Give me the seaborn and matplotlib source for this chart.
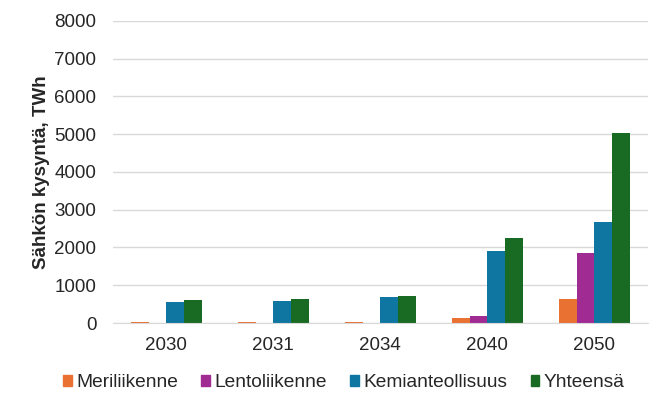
import matplotlib
matplotlib.use("Agg")
import matplotlib.pyplot as plt
import seaborn as sns
import pandas as pd

years = ["2030", "2031", "2034", "2040", "2050"]
series = ["Meriliikenne", "Lentoliikenne", "Kemianteollisuus", "Yhteensä"]
meriliikenne = [35, 35, 35, 130, 630]
lentoliikenne = [0, 0, 0, 185, 1850]
kemianteollisuus = [560, 585, 680, 1915, 2685]
yhteensa = [600, 630, 725, 2245, 5035]
colors = ["#E97132", "#A02B93", "#0E76A0", "#196B24"]

rows = []
for name, vals in zip(series, [meriliikenne, lentoliikenne, kemianteollisuus, yhteensa]):
    for y, v in zip(years, vals):
        rows.append({"Vuosi": y, "Sarja": name, "TWh": v})
df = pd.DataFrame(rows)

sns.set_style("white")
plt.rcParams["font.family"] = ["Liberation Sans", "DejaVu Sans"]

fig = plt.figure(figsize=(6.49, 3.93), dpi=100)
ax = fig.add_axes([0.174, 0.178, 0.824, 0.769])

sns.barplot(data=df, x="Vuosi", y="TWh", hue="Sarja", palette=colors,
            width=0.66, saturation=1, linewidth=0, ax=ax, legend=False)

ax.set_ylim(0, 8000)
ax.set_yticks(range(0, 8001, 1000))
ax.yaxis.grid(True, color="#D9D9D9", linewidth=1)
ax.set_axisbelow(True)
for s in ["top", "right", "left"]:
    ax.spines[s].set_visible(False)
ax.spines["bottom"].set_color("#D9D9D9")
ax.tick_params(axis="y", length=0, labelsize=13.5, colors="#262626", pad=12)
ax.tick_params(axis="x", length=0, labelsize=13.5, colors="#262626", pad=10)
ax.set_xlabel("")
ax.set_ylabel("Sähkön kysyntä, TWh", fontsize=13.5, fontweight="bold", labelpad=3)

handles = [plt.Rectangle((0, 0), 1, 1, color=c) for c in colors]
fig.legend(handles, series, loc="lower center", bbox_to_anchor=(0.53, -0.04),
           ncol=4, frameon=False, fontsize=13.8, handlelength=0.45, handleheight=0.45,
           handletextpad=0.25, columnspacing=1.2, labelcolor="#262626")

fig.savefig("out.png", dpi=100)
